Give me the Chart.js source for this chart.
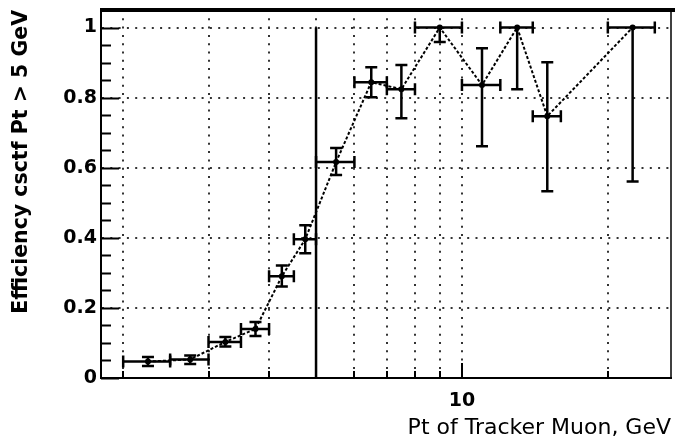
<!DOCTYPE html>
<html>
<head>
<meta charset="utf-8">
<script src="https://cdn.jsdelivr.net/npm/chart.js@4.4.1/dist/chart.umd.min.js"></script>
<style>
  html, body { margin: 0; padding: 0; background: #fff; }
  #wrap { width: 675px; height: 442px; }
</style>
</head>
<body>
<div id="wrap"><canvas id="effChart" width="675" height="442"></canvas></div>
<script>
// muon pt bins (centre and half width, GeV)
const pt = [2.25, 2.75, 3.25, 3.75, 4.25, 4.75, 5.5, 6.5, 7.5, 9, 11, 13, 15, 22.5];
const ptErr = [0.25, 0.25, 0.25, 0.25, 0.25, 0.25, 0.5, 0.5, 0.5, 1, 1, 1, 1, 2.5];

// csctf efficiency with asymmetric errors
const eff = [0.047, 0.053, 0.103, 0.14, 0.29, 0.396, 0.616, 0.844, 0.824, 1.0, 0.836, 1.0, 0.747, 1.0];
const effErrLow = [0.013, 0.013, 0.013, 0.02, 0.029, 0.04, 0.037, 0.043, 0.083, 0.041, 0.175, 0.176, 0.214, 0.439];
const effErrHigh = [0.013, 0.011, 0.014, 0.02, 0.031, 0.04, 0.04, 0.043, 0.069, 0, 0.105, 0, 0.154, 0];

// pt cut marker
const cutPt = 5;
const cutRange = [0, 1];

// axis ticks
const xTicks = [2, 3, 4, 5, 6, 7, 8, 9, 10, 20];
const xTickLabels = ['', '', '', '', '', '', '', '', '10', ''];
const yTicks = [0, 0.2, 0.4, 0.6, 0.8, 1];
const yTickLabels = ['0', '0.2', '0.4', '0.6', '0.8', '1'];

const CAP = 6;

// error bars, cut line, inward ticks and frame
const rootStyle = {
    id: 'rootStyle',
    afterDatasetsDraw(chart) {
        const {ctx, scales: {x, y}} = chart;
        ctx.save();
        ctx.strokeStyle = '#000';
        ctx.lineWidth = 2.5;
        ctx.lineCap = 'butt';

        // threshold line
        ctx.beginPath();
        ctx.moveTo(x.getPixelForValue(cutPt), y.getPixelForValue(cutRange[0]));
        ctx.lineTo(x.getPixelForValue(cutPt), y.getPixelForValue(cutRange[1]));
        ctx.stroke();

        pt.forEach((p, i) => {
            const px = x.getPixelForValue(p);
            const py = y.getPixelForValue(eff[i]);
            const x0 = x.getPixelForValue(p - ptErr[i]);
            const x1 = x.getPixelForValue(p + ptErr[i]);
            const y0 = y.getPixelForValue(eff[i] - effErrLow[i]);
            const y1 = y.getPixelForValue(eff[i] + effErrHigh[i]);
            ctx.beginPath();
            ctx.moveTo(x0, py); ctx.lineTo(x1, py);
            ctx.moveTo(x0, py - CAP); ctx.lineTo(x0, py + CAP);
            ctx.moveTo(x1, py - CAP); ctx.lineTo(x1, py + CAP);
            if (effErrLow[i] > 0) {
                ctx.moveTo(px, py); ctx.lineTo(px, y0);
                ctx.moveTo(px - CAP, y0); ctx.lineTo(px + CAP, y0);
            }
            if (effErrHigh[i] > 0) {
                ctx.moveTo(px, py); ctx.lineTo(px, y1);
                ctx.moveTo(px - CAP, y1); ctx.lineTo(px + CAP, y1);
            }
            ctx.stroke();
        });
        ctx.restore();
    },
    afterDraw(chart) {
        const {ctx, chartArea: a, scales: {x, y}} = chart;
        ctx.save();
        ctx.strokeStyle = '#000';

        // y ticks point into the pad
        ctx.lineWidth = 2;
        ctx.beginPath();
        for (let v = 0; v <= 1.0001; v += 0.05) {
            const py = Math.round(y.getPixelForValue(v)) + 0.5;
            const major = Math.abs(v / 0.2 - Math.round(v / 0.2)) < 1e-6;
            ctx.moveTo(a.left, py);
            ctx.lineTo(a.left + (major ? 18 : 10), py);
        }
        ctx.stroke();

        // x ticks point up from the bottom
        ctx.beginPath();
        xTicks.forEach(v => {
            const px = Math.round(x.getPixelForValue(v));
            ctx.moveTo(px, a.bottom);
            ctx.lineTo(px, a.bottom - (v === 10 ? 15 : 7));
        });
        ctx.stroke();

        // frame: heavy top edge, thin right edge
        ctx.lineWidth = 4;
        ctx.beginPath();
        ctx.moveTo(a.left - 1, a.top);
        ctx.lineTo(chart.width, a.top);
        ctx.stroke();
        ctx.lineWidth = 1.5;
        ctx.beginPath();
        ctx.moveTo(a.right, a.top);
        ctx.lineTo(a.right, a.bottom);
        ctx.stroke();
        ctx.restore();
    }
};

const gridLook = {
    color: '#333',
    lineWidth: 2,
    drawTicks: false
};
const borderLook = { color: '#000', width: 2, dash: [2, 6.3] };

new Chart(document.getElementById('effChart'), {
    type: 'scatter',
    data: {
        datasets: [{
            data: pt.map((p, i) => ({x: p, y: eff[i]})),
            showLine: true,
            borderColor: '#000',
            borderWidth: 2,
            borderDash: [3, 2],
            pointRadius: 3,
            pointBackgroundColor: '#000',
            pointBorderWidth: 0,
            tension: 0
        }]
    },
    options: {
        responsive: false,
        animation: false,
        devicePixelRatio: 1,
        layout: { padding: { top: 10, right: 2, left: 0, bottom: 0 } },
        plugins: { legend: { display: false }, tooltip: { enabled: false } },
        scales: {
            x: {
                type: 'logarithmic',
                min: 1.8,
                max: 27,
                grid: gridLook,
                border: borderLook,
                afterBuildTicks: s => { s.ticks = xTicks.map(v => ({value: v})); },
                afterFit: s => { s.height = 64; s.paddingLeft = 0; s.paddingRight = 0; },
                ticks: {
                    autoSkip: false,
                    maxRotation: 0,
                    padding: 12,
                    color: '#000',
                    font: { family: 'DejaVu Sans', size: 19, weight: 'bold' },
                    callback: (v, i) => xTickLabels[i]
                },
                title: {
                    display: true,
                    text: 'Pt of Tracker Muon, GeV',
                    align: 'end',
                    color: '#000',
                    padding: { top: 0, bottom: 1 },
                    font: { family: 'DejaVu Sans', size: 22 }
                }
            },
            y: {
                min: 0,
                max: 1.05,
                grid: gridLook,
                border: borderLook,
                afterBuildTicks: s => { s.ticks = yTicks.map(v => ({value: v})); },
                afterFit: s => { s.width = 101; s.paddingTop = 0; s.paddingBottom = 0; },
                ticks: {
                    padding: 4,
                    color: '#000',
                    font: { family: 'DejaVu Sans', size: 19, weight: 'bold' },
                    callback: (v, i) => yTickLabels[i]
                },
                title: {
                    display: true,
                    text: 'Efficiency csctf Pt > 5 GeV',
                    align: 'end',
                    color: '#000',
                    padding: { top: 9, bottom: 0 },
                    font: { family: 'DejaVu Sans', size: 20.5, weight: 'bold' }
                }
            }
        }
    },
    plugins: [rootStyle]
});
</script>
</body>
</html>
